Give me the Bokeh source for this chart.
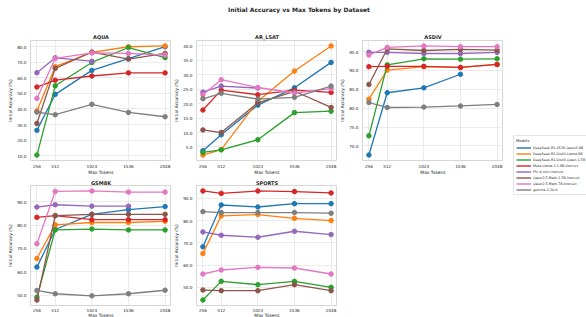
import numpy as np
from bokeh.plotting import figure
from bokeh.models import Range1d, FixedTicker, PrintfTickFormatter, Legend, LegendItem, Div
from bokeh.layouts import row, column
from bokeh.embed import file_html
from bokeh.resources import INLINE

FONT = "DejaVu Sans"
TXT = "#262626"

MAX_TOKENS = [256, 512, 1024, 1536, 2048]
MODELS = [
    "DeepSeek-R1-0528-Qwen3-8B",
    "DeepSeek-R1-Distill-Llama-8B",
    "DeepSeek-R1-Distill-Qwen-1.5B",
    "Meta-Llama-3.1-8B-Instruct",
    "Phi-4-mini-instruct",
    "Qwen2.5-Math-1.5B-Instruct",
    "Qwen2.5-Math-7B-Instruct",
    "gemma-2-2b-it",
]
COLORS = ["#1f77b4", "#ff7f0e", "#2ca02c", "#d62728", "#9467bd", "#8c564b", "#e377c2", "#7f7f7f"]

NA = None
# values per model (same order as MODELS), per max-token setting
AQUA = [
    [26.3, 49.4, 64.8, 72.3, 80.0],
    [38.7, 67.2, 76.4, 80.0, 80.5],
    [10.4, 54.9, 69.9, 79.5, 73.0],
    [54.1, 58.5, 61.2, 63.2, 63.2],
    [63.3, 72.9, 70.7, NA, NA],
    [30.7, 66.1, 76.6, 72.1, 75.7],
    [46.8, 72.5, 76.0, 75.7, 74.7],
    [38.0, 36.3, 43.0, 37.8, 35.0],
]
AR_LSAT = [
    [3.7, 9.2, 19.5, 25.5, 34.3],
    [2.2, 4.1, 20.8, 31.3, 40.0],
    [3.1, 4.0, 7.5, 16.9, 17.4],
    [17.8, 24.7, 23.1, 24.7, 23.9],
    [24.0, 26.1, 25.4, NA, NA],
    [10.9, 10.0, 20.3, 24.3, 18.7],
    [23.1, 28.3, 25.6, 23.7, 25.2],
    [21.7, 23.6, 21.6, 22.2, 26.1],
]
ASDIV = [
    [67.6, 84.1, 85.4, 89.0, NA],
    [82.4, 90.1, 91.0, 90.8, 91.6],
    [72.7, 91.5, 93.1, 93.0, 93.1],
    [91.0, 91.1, 91.1, 90.8, 91.6],
    [94.8, 94.8, 94.5, 94.5, 94.8],
    [86.3, 95.7, 95.3, 95.6, 95.4],
    [94.1, 96.1, 96.5, 96.3, 96.3],
    [81.5, 80.2, 80.3, 80.6, 81.0],
]
GSM8K = [
    [62.0, 78.1, 84.6, 86.6, 87.9],
    [65.7, 80.1, 81.1, 81.1, 81.6],
    [49.1, 77.9, 78.3, 77.9, 77.9],
    [83.3, 84.0, 82.3, 82.3, 82.3],
    [87.7, 88.7, 88.1, 88.1, NA],
    [47.9, 84.0, 84.6, 84.6, 84.6],
    [72.0, 94.4, 94.6, 94.1, 94.1],
    [52.0, 50.6, 49.7, 50.6, 52.1],
]
SPORTS = [
    [68.2, 87.0, 86.1, 87.6, 87.6],
    [65.2, 82.1, 82.7, 81.0, 80.0],
    [44.3, 52.7, 51.2, 52.7, 50.0],
    [93.3, 92.2, 93.3, 93.0, 92.4],
    [74.9, 73.4, 72.5, 75.2, 73.7],
    [48.8, 48.5, 48.5, 51.2, 48.5],
    [56.0, 57.8, 59.0, 58.7, 56.0],
    [84.0, 83.6, 83.6, 83.6, 83.3],
]
AQUA_TICKS = [10, 20, 30, 40, 50, 60, 70, 80]
AR_LSAT_TICKS = [5, 10, 15, 20, 25, 30, 35, 40]
ASDIV_TICKS = [70, 75, 80, 85, 90, 95]
GSM8K_TICKS = [50, 60, 70, 80, 90]
SPORTS_TICKS = [50, 60, 70, 80, 90]


def make_panel(name, values, yticks, left, top, bottom, title_standoff, xlab_standoff, xaxlab_standoff):
    ys = [np.array(v, dtype=float) for v in values]
    allv = np.concatenate(ys)
    allv = allv[~np.isnan(allv)]
    lo, hi = allv.min(), allv.max()
    pad = 0.05 * (hi - lo)
    x = np.array(MAX_TOKENS, dtype=float)
    xpad = 0.05 * (x.max() - x.min())
    p = figure(frame_width=141, frame_height=120,
               x_range=Range1d(x.min() - xpad, x.max() + xpad),
               y_range=Range1d(lo - pad, hi + pad),
               output_backend="svg", toolbar_location=None,
               min_border_left=left, min_border_right=0,
               min_border_top=top, min_border_bottom=bottom,
               title=name)
    p.title.text_font = FONT
    p.title.text_font_size = "5px"
    p.title.text_font_style = "bold"
    p.title.text_color = TXT
    p.title.align = "center"
    p.title.standoff = title_standoff
    p.outline_line_color = "#cccccc"
    p.outline_line_width = 0.8
    p.grid.grid_line_color = "#e6e6e6"
    p.grid.grid_line_width = 0.8
    p.xaxis.ticker = FixedTicker(ticks=MAX_TOKENS)
    p.yaxis.ticker = FixedTicker(ticks=yticks)
    p.yaxis.formatter = PrintfTickFormatter(format="%.1f")
    p.xaxis.axis_label = "Max Tokens"
    p.yaxis.axis_label = "Initial Accuracy (%)"
    for ax in (p.xaxis[0], p.yaxis[0]):
        ax.axis_line_color = None
        ax.major_tick_line_color = None
        ax.minor_tick_line_color = None
        ax.major_tick_out = 0
        ax.major_tick_in = 0
        ax.minor_tick_out = 0
        ax.major_label_text_font = FONT
        ax.major_label_text_font_size = "4.2px"
        ax.major_label_text_color = TXT
        ax.axis_label_text_font = FONT
        ax.axis_label_text_font_size = "4.4px"
        ax.axis_label_text_font_style = "normal"
        ax.axis_label_text_color = TXT
        ax.axis_label_standoff = 1
    p.xaxis.major_label_standoff = xlab_standoff
    p.xaxis.axis_label_standoff = xaxlab_standoff
    p.yaxis.major_label_standoff = 4
    for yv, c in zip(ys, COLORS):
        p.line(x=MAX_TOKENS, y=yv, line_color=c, line_width=1.3)
        p.scatter(x=MAX_TOKENS, y=yv, size=4.5, fill_color=c, line_color=c)
    return p


p1 = make_panel("AQUA", AQUA, AQUA_TICKS, 30, 20, 12, 1, 3, -1)
p2 = make_panel("AR_LSAT", AR_LSAT, AR_LSAT_TICKS, 22, 20, 12, 1, 3, -1)
p3 = make_panel("ASDIV", ASDIV, ASDIV_TICKS, 22, 20, 12, 1, 3, -1)
p4 = make_panel("GSM8K", GSM8K, GSM8K_TICKS, 30, 4, 8, 0, 2, -2)
p5 = make_panel("SPORTS", SPORTS, SPORTS_TICKS, 22, 4, 8, 0, 2, -2)

lf = figure(width=89, height=297, x_range=Range1d(0, 1), y_range=Range1d(0, 1),
            x_axis_location=None, y_axis_location=None, toolbar_location=None,
            output_backend="svg", min_border=0, outline_line_color=None)
lf.grid.visible = False
items = []
for m, c in zip(MODELS, COLORS):
    # legend handle only: a single NaN point draws nothing in the plot area
    r = lf.line(x=[np.nan], y=[np.nan], line_color=c, line_width=1.4)
    items.append(LegendItem(label=m, renderers=[r]))
leg = Legend(items=items, location=(10, 122), title="Models",
             title_text_font=FONT, title_text_font_size="3.8px", title_text_font_style="normal",
             title_text_color=TXT, title_standoff=2,
             label_text_font=FONT, label_text_font_size="3.3px", label_text_color=TXT,
             glyph_width=15, glyph_height=5, label_height=5, label_standoff=2,
             spacing=1, padding=2, margin=0,
             border_line_color="#cccccc", border_line_width=0.8,
             background_fill_color="white", background_fill_alpha=1.0)
lf.add_layout(leg)

title_div = Div(text='<div style="width:586px;height:20px;line-height:20px;text-align:center;'
                     'padding-left:12px;box-sizing:border-box;font-family:\'DejaVu Sans\';'
                     'font-weight:bold;font-size:6px;color:#262626;">'
                     'Initial Accuracy vs Max Tokens by Dataset</div>',
                width=586, height=20, margin=(0, 0, 0, 0))

layout = column(title_div, row(column(row(p1, p2, p3), row(p4, p5)), lf))

open("out.html", "w").write(file_html(layout, INLINE))
